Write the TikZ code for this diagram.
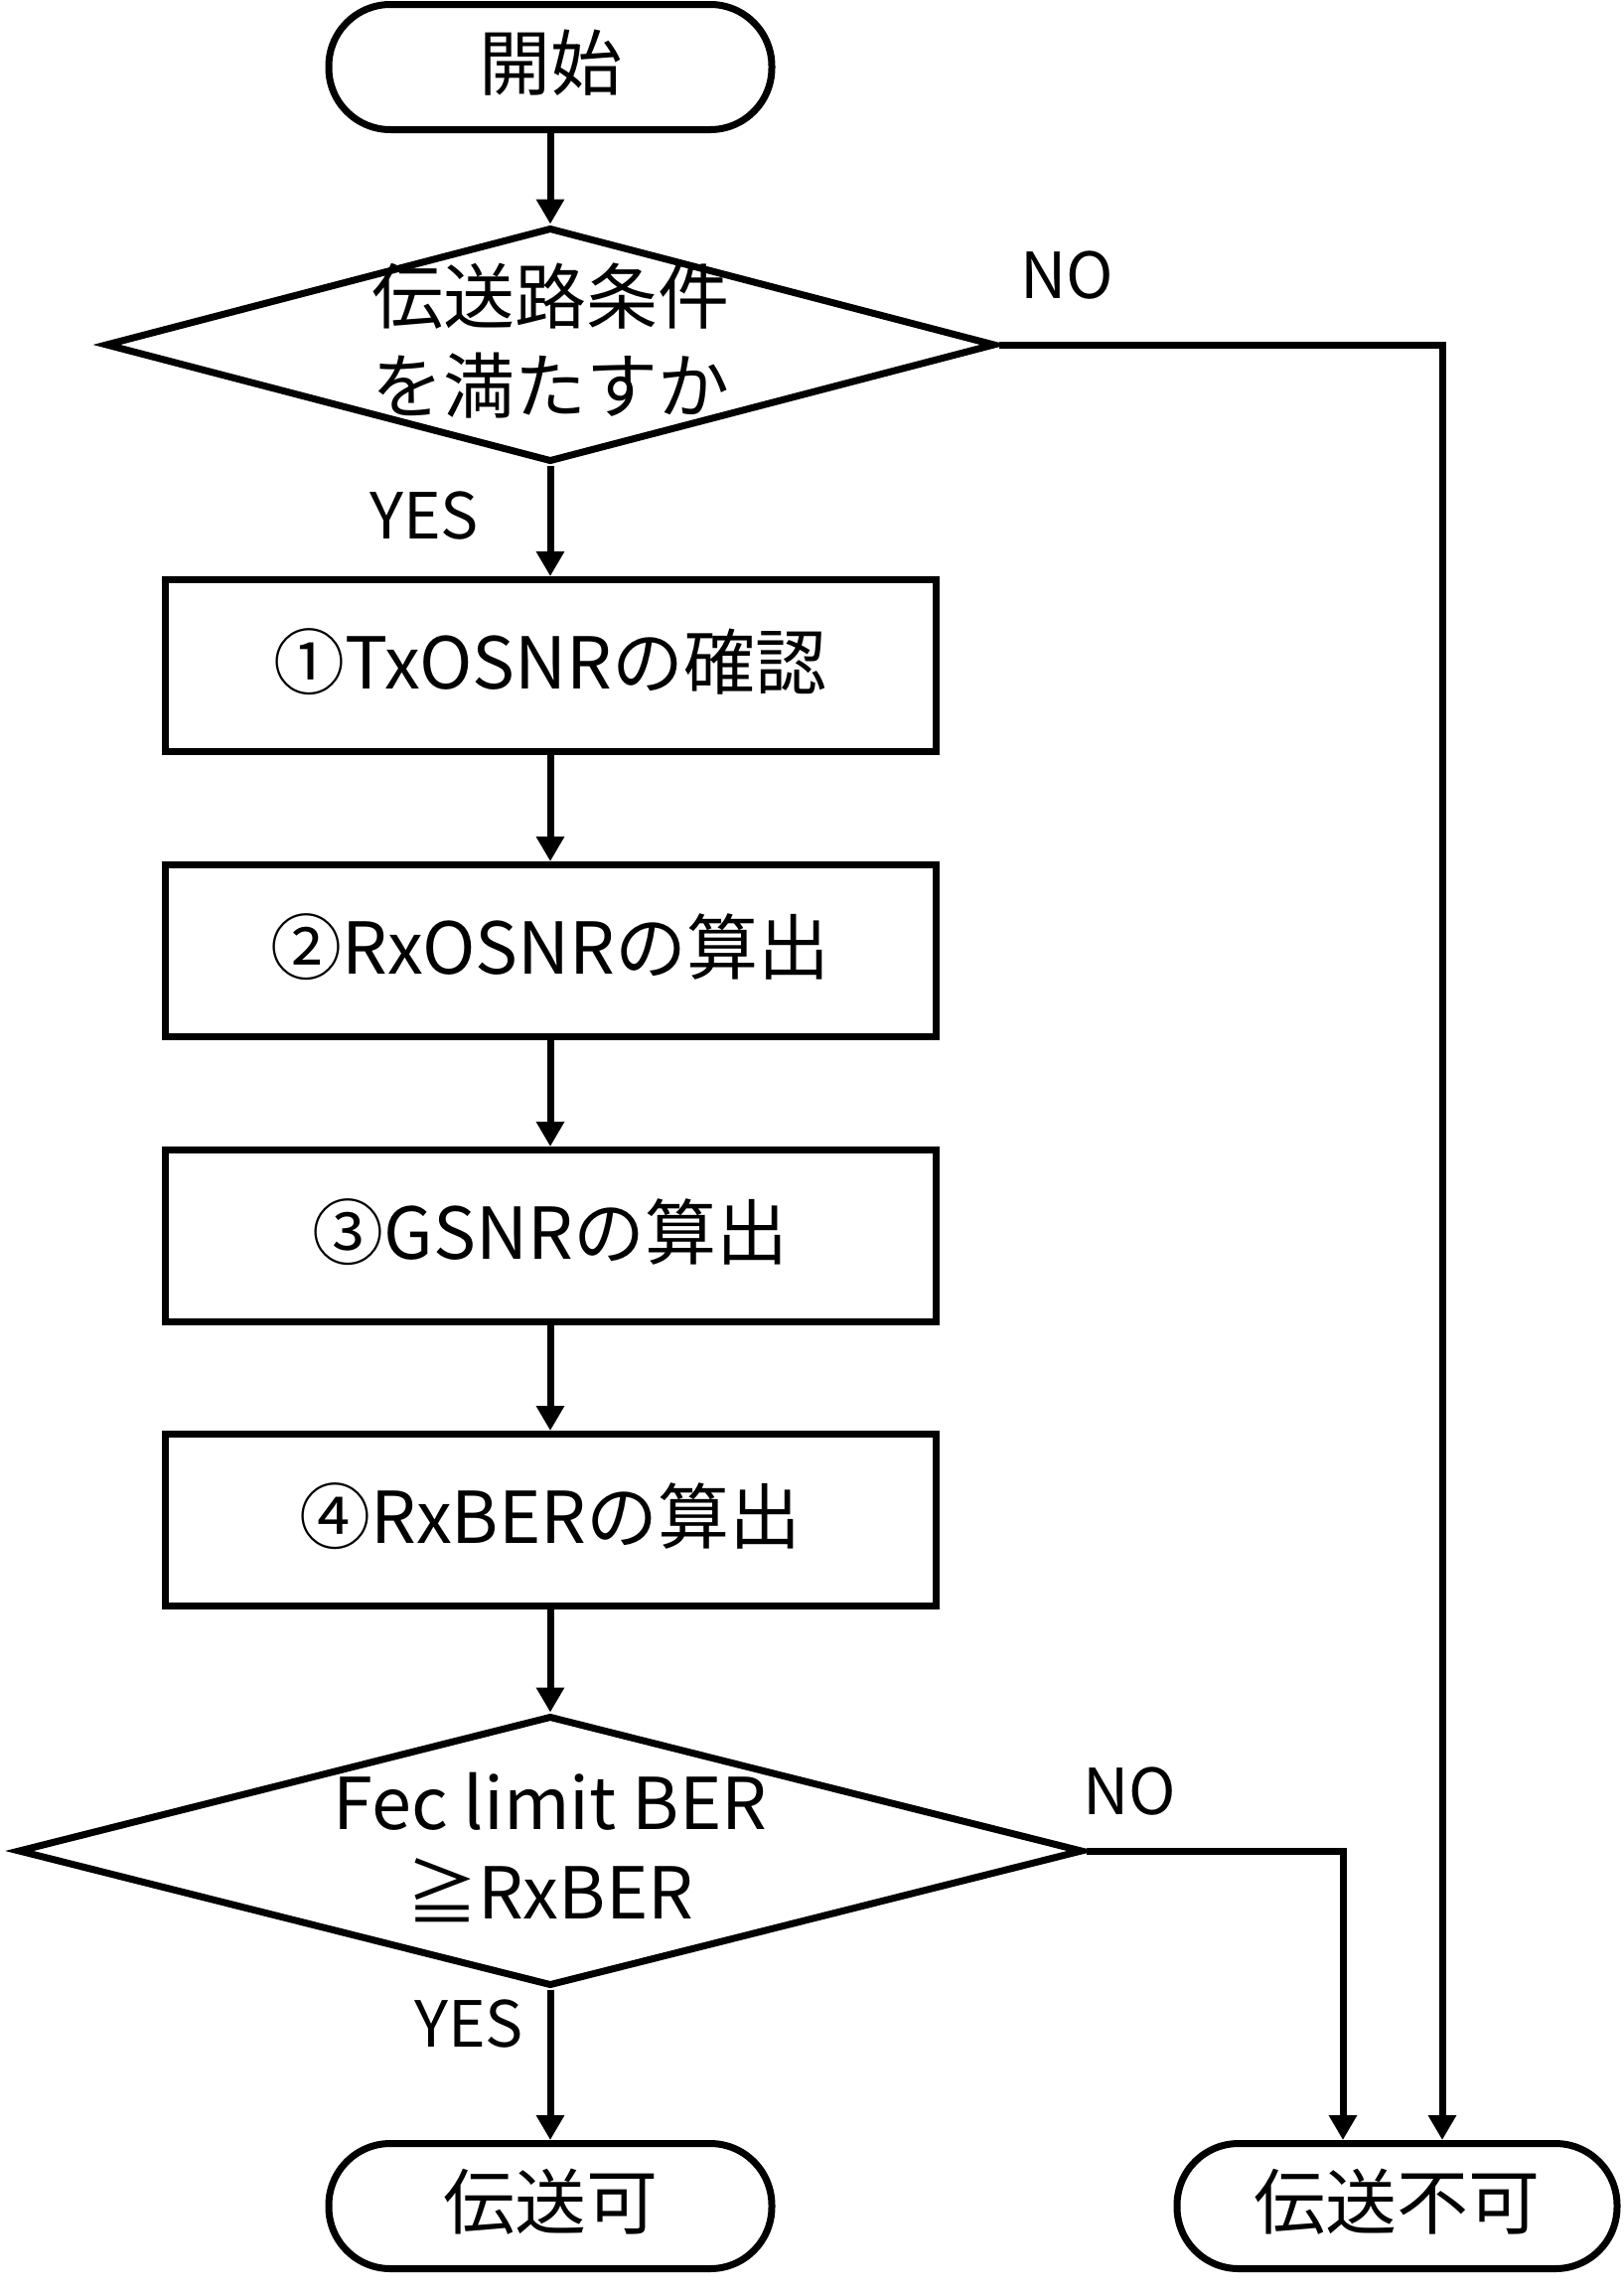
\documentclass[tikz,border=0pt]{standalone}
\usepackage{fontspec}
\setmainfont{Noto Sans CJK JP}
\usetikzlibrary{shapes.geometric, arrows.meta}

\begin{document}
\begin{tikzpicture}[x=1pt, y=-1pt,
  base/.style={draw=black, line width=7pt, inner sep=0pt},
  onetext/.style={text height=62pt, text depth=16pt, font=\fontsize{72}{90}\selectfont},
  term/.style={base, onetext, rectangle, rounded corners=62pt, minimum width=446pt, minimum height=126pt},
  proc/.style={base, onetext, rectangle, minimum width=776pt, minimum height=173pt},
  decision/.style={base, diamond},
  dtext/.style={align=center, inner sep=0pt, yshift=4pt, font=\fontsize{72}{90}\selectfont},
  lbl/.style={inner sep=0pt, font=\fontsize{64}{64}\selectfont},
  conn/.style={line width=7pt},
  arr/.style={conn, -{Triangle[width=27pt,length=25pt]}}
]
\useasboundingbox[fill=white] (0,0) rectangle (1634,2310);

% nodes
\node[term] (start) at (554,67.5) {開始};
\node[decision, minimum width=896pt, minimum height=236pt] (d1) at (554,347) {};
\node[dtext] (d1t) at (d1.center) {伝送路条件\\を満たすか};
\node[proc] (b1) at (554,670) {①TxOSNRの確認};
\node[proc] (b2) at (554,957) {②RxOSNRの算出};
\node[proc] (b3) at (554,1244) {③GSNRの算出};
\node[proc] (b4) at (554,1530) {④RxBERの算出};
\node[decision, minimum width=1072pt, minimum height=272pt] (d2) at (554,1863) {};
\node[dtext] (d2t) at (d2.center) {Fec limit BER\\≧RxBER};
\node[term] (ok) at (554,2220.5) {伝送可};
\node[term, minimum width=443pt] (ng) at (1406.5,2220.5) {伝送不可};

% labels
\node[lbl] (no1) at (1074,277) {NO};
\node[lbl] (yes1) at (427,519) {YES};
\node[lbl] (no2) at (1137,1803) {NO};
\node[lbl] (yes2) at (472,2037) {YES};

% corner coordinates
\coordinate (c1) at (1452,347);
\coordinate (c2) at (1352,1863);

% connectors
\draw[arr] (start.south) -- (d1.north);
\draw[arr] (d1.south) -- (b1.north);
\draw[arr] (b1.south) -- (b2.north);
\draw[arr] (b2.south) -- (b3.north);
\draw[arr] (b3.south) -- (b4.north);
\draw[arr] (b4.south) -- (d2.north);
\draw[arr] (d2.south) -- (ok.north);
\draw[arr] (d1.east) -- (c1) -- (c1 |- ng.north);
\draw[arr] (d2.east) -- (c2) -- (c2 |- ng.north);
\end{tikzpicture}
\end{document}
